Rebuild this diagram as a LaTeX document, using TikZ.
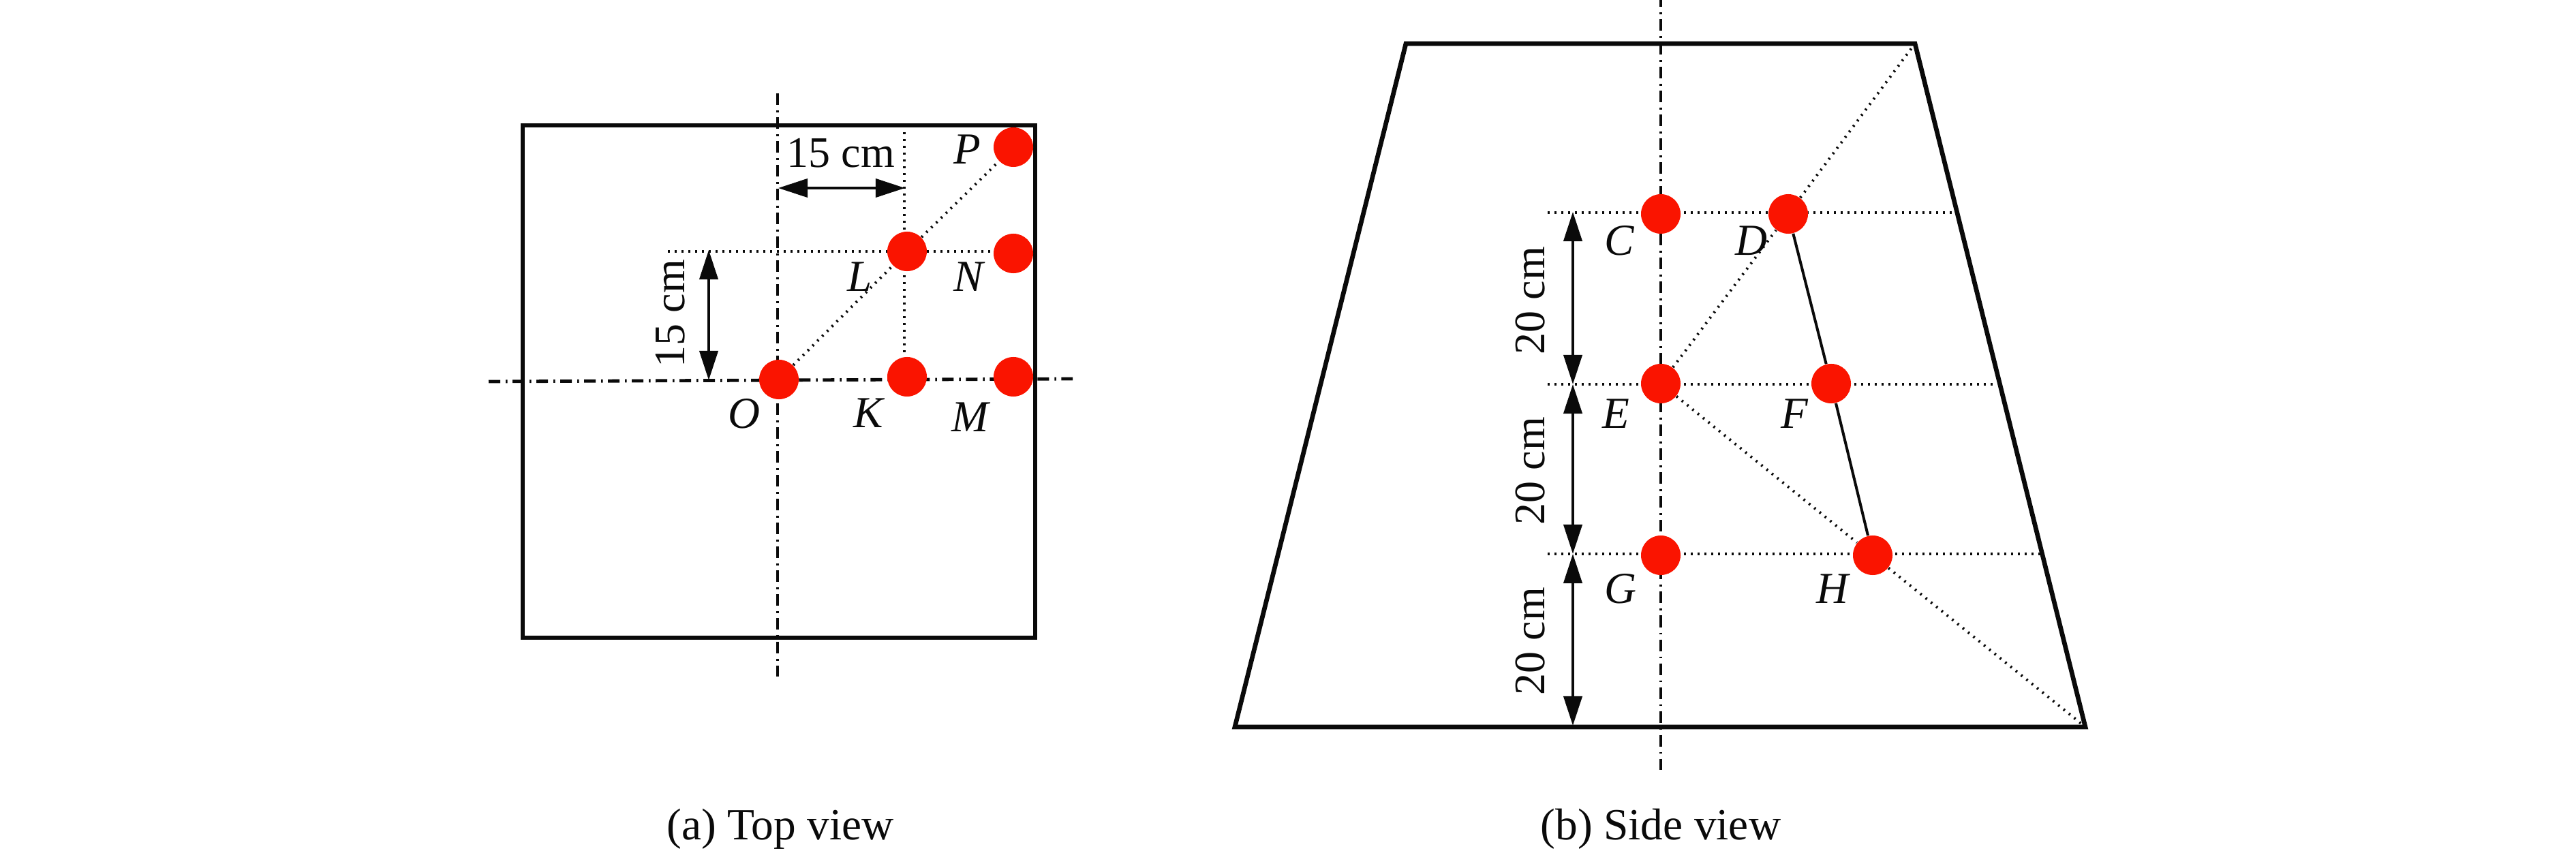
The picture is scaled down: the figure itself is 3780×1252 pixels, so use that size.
\documentclass[tikz,border=0pt]{standalone}
\usepackage{fontspec}
\setmainfont{Liberation Serif}
\usetikzlibrary{arrows.meta}
\pgfdeclarelayer{fg}
\pgfsetlayers{main,fg}
\definecolor{dotred}{HTML}{FA1400}
\definecolor{ink}{HTML}{0A0A0A}
\tikzset{
  frame/.style={line width=0.067cm,line join=miter,draw=ink},
  axisline/.style={line width=0.048cm,draw=ink,dash pattern=on 0.17cm off 0.08cm on 0.025cm off 0.075cm},
  dotline/.style={line width=0.04cm,draw=ink,dash pattern=on 0.025cm off 0.075cm},
  dim/.style={line width=0.04cm,draw=ink,{Triangle[length=0.43cm,width=0.27cm]}-{Triangle[length=0.43cm,width=0.27cm]}},
  solidlink/.style={line width=0.04cm,draw=ink},
  reddot/.style={circle,fill=dotred,inner sep=0pt,minimum size=0.58cm},
  txt/.style={inner sep=0pt,anchor=base,font=\fontsize{18.2pt}{20pt}\selectfont,text=ink},
  captiontxt/.style={txt,font=\fontsize{18.6pt}{20pt}\selectfont},
  lab/.style={txt,font=\fontsize{18.5pt}{20pt}\selectfont\itshape}
}
\begin{document}
\begin{tikzpicture}[x=0.01cm,y=-0.01cm]
\useasboundingbox (0,0) rectangle (3780,1252);
% ---------- (a) top view
\coordinate (sa) at (767,184);
\coordinate (sb) at (1519,184);
\coordinate (sc) at (1519,936);
\coordinate (sd) at (767,936);
\coordinate (vt) at (1141,137);
\coordinate (vb) at (1141,993);
\coordinate (hl) at (717,560);
\coordinate (hr) at (1574,556);
\coordinate (kt) at (1327,184);
\coordinate (lw) at (980,369);
\coordinate (av) at (1142,276);
\coordinate (ak) at (1328,276);
\coordinate (au) at (1040,367);
\coordinate (ad) at (1040,558);
\begin{pgfonlayer}{fg}
\node[reddot] (O) at (1143,557) {};
\node[reddot] (K) at (1331,553) {};
\node[reddot] (M) at (1487,553) {};
\node[reddot] (L) at (1331,369) {};
\node[reddot] (N) at (1487,372) {};
\node[reddot] (P) at (1487,216) {};
\end{pgfonlayer}
\draw[frame] (sa) -- (sb) -- (sc) -- (sd) -- cycle;
\draw[axisline] (vt) -- (vb);
\draw[axisline] (hl) -- (hr);
\draw[dotline] (kt) -- (K.north -| kt);
\draw[dotline] (lw) -- (N.west |- lw);
\draw[dotline] (O) -- (L);
\draw[dotline] (L) -- (P);
\draw[dim] (av) -- (ak);
\draw[dim] (au) -- (ad);
\node[txt] (d1) at (1234,246) {15 cm};
\node[txt,rotate=90] (d2) at (1004,460) {15 cm};
\node[lab] (lP) at (1419,241) {P};
\node[lab] (lL) at (1262,428) {L};
\node[lab] (lN) at (1421,428) {N};
\node[lab] (lO) at (1092,629) {O};
\node[lab] (lK) at (1274,628) {K};
\node[lab] (lM) at (1424,634) {M};
\node[captiontxt] (capa) at (1145,1232) {(a) Top view};
% ---------- (b) side view
\coordinate (ta) at (2063,64);
\coordinate (tb) at (2810,64);
\coordinate (tc) at (3060,1067);
\coordinate (td) at (1812,1067);
\coordinate (wt) at (2437,0);
\coordinate (wb) at (2437,1130);
\coordinate (c0) at (2271,312);
\coordinate (e0) at (2271,564);
\coordinate (g0) at (2271,813);
\coordinate (c1) at (2866,312);
\coordinate (e1) at (2931,564);
\coordinate (g1) at (2995,813);
\coordinate (a1) at (2308,311);
\coordinate (a2) at (2308,564);
\coordinate (a3) at (2308,813);
\coordinate (a4) at (2308,1065);
\begin{pgfonlayer}{fg}
\node[reddot] (C) at (2437,314) {};
\node[reddot] (D) at (2624,314) {};
\node[reddot] (E) at (2437,563) {};
\node[reddot] (F) at (2687,563) {};
\node[reddot] (G) at (2437,815) {};
\node[reddot] (H) at (2748,815) {};
\end{pgfonlayer}
\draw[frame] (ta) -- (tb) -- (tc) -- (td) -- cycle;
\draw[axisline,dash phase=0.07cm] (wt) -- (wb);
\draw[dotline] (c0) -- (c1);
\draw[dotline] (e0) -- (e1);
\draw[dotline] (g0) -- (g1);
\draw[dotline] (E) -- (D);
\draw[dotline] (D) -- (tb);
\draw[dotline] (E) -- (H);
\draw[dotline] (H) -- (tc);
\draw[solidlink] (D) -- (F);
\draw[solidlink] (F) -- (H);
\draw[dim] (a1) -- (a2);
\draw[dim] (a2) -- (a3);
\draw[dim] (a3) -- (a4);
\node[txt,rotate=90] (d3) at (2266,441) {20 cm};
\node[txt,rotate=90] (d4) at (2266,691) {20 cm};
\node[txt,rotate=90] (d5) at (2266,941) {20 cm};
\node[lab] (lC) at (2376,375) {C};
\node[lab] (lD) at (2570,375) {D};
\node[lab] (lE) at (2371,629) {E};
\node[lab] (lF) at (2633,629) {F};
\node[lab] (lG) at (2378,886) {G};
\node[lab] (lH) at (2689,886) {H};
\node[captiontxt] (capb) at (2437,1232) {(b) Side view};
\end{tikzpicture}
\end{document}
